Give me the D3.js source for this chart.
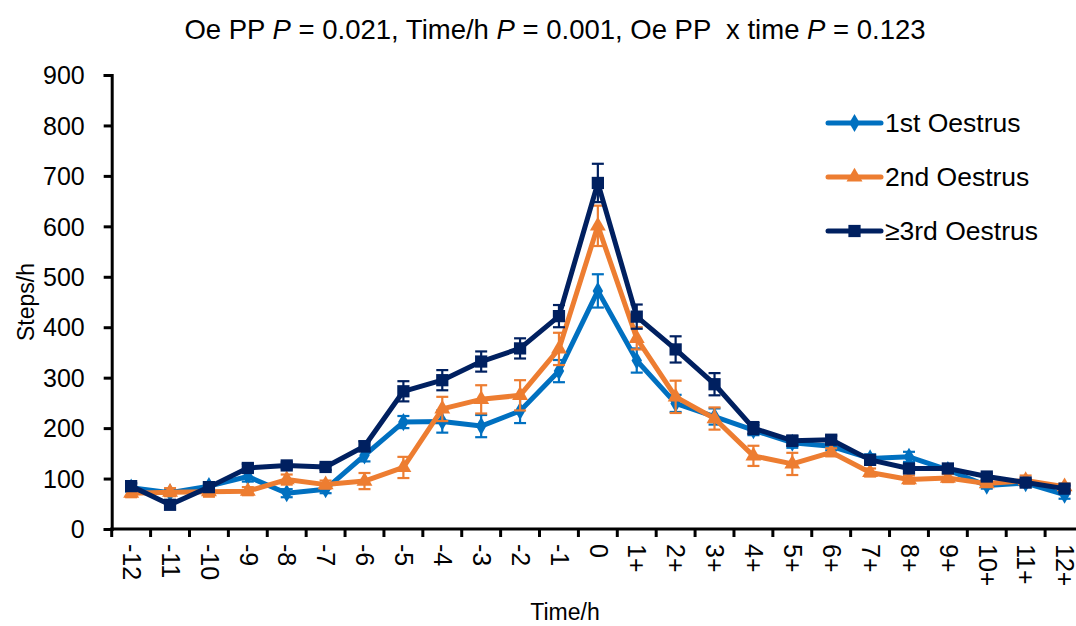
<!DOCTYPE html>
<html>
<head>
<meta charset="utf-8">
<script src="https://cdn.jsdelivr.net/npm/d3@7"></script>
<style>
  body { margin: 0; background: #fff; }
  svg text { font-family: "Liberation Sans", Arial, sans-serif; fill: #000; }
</style>
</head>
<body>
<svg id="grafica"></svg>
<script>
// Steps/h por hora alrededor del estro, tres grupos de estro

const svg_w = 1076;
const svg_h = 626;

// márgenes: el eje x sale del borde derecho como en el original
const margin = {l:111.7, r:-8, t:75, b:97};

// datos
const categorias = ["-12","-11","-10","-9","-8","-7","-6","-5","-4","-3","-2","-1","0",
  "1+","2+","3+","4+","5+","6+","7+","8+","9+","10+","11+","12+"];

const estro1 = [82,72,85,104,71,79,146,212,213,204,234,313,472,334,249,223,196,171,164,140,143,117,86,91,68];
const estro1_err = [8,6,8,10,8,8,12,12,22,22,24,22,33,24,17,16,10,10,8,8,10,8,6,6,8];

const estro2 = [71,73,74,75,98,88,95,122,238,257,265,357,601,378,262,219,145,129,152,112,98,101,90,96,84];
const estro2_err = [8,8,10,8,10,8,16,21,24,28,30,32,40,22,32,22,20,22,8,8,8,8,6,10,6];

const estro3 = [85,48,83,121,126,123,164,273,295,332,358,422,686,421,356,287,200,175,177,137,120,120,104,92,80];
const estro3_err = [6,8,6,8,6,6,10,20,20,20,20,22,38,24,26,22,12,10,8,8,8,6,6,6,6];

const y_ticks = [0,100,200,300,400,500,600,700,800,900];

const series = [
  {nombre:"1st Oestrus", valores:estro1, err:estro1_err, color:"#0070C0", simbolo:d3.symbolDiamond, tam:95},
  {nombre:"2nd Oestrus", valores:estro2, err:estro2_err, color:"#ED7D31", simbolo:d3.symbolTriangle, tam:110},
  {nombre:"≥3rd Oestrus", valores:estro3, err:estro3_err, color:"#002060", simbolo:d3.symbolSquare, tam:150}
];

let svg = d3.select("#grafica")
  .attr("width", svg_w)
  .attr("height", svg_h);

let x_scale = d3.scaleBand()
  .domain(categorias)
  .range([margin.l, svg_w - margin.r])
  .padding(0);

let y_scale = d3.scaleLinear()
  .domain([0,900])
  .range([svg_h - margin.b, margin.t]);

const cx = c => x_scale(c) + x_scale.bandwidth()/2;

// eje y
let eje_y = svg.append("g")
  .attr("transform", `translate(${margin.l},0)`)
  .call(d3.axisLeft(y_scale).tickValues(y_ticks).tickSize(8).tickPadding(18));
eje_y.select(".domain").attr("stroke","#000").attr("stroke-width",3);
eje_y.selectAll(".tick line").attr("stroke","#000").attr("stroke-width",3);
eje_y.selectAll(".tick text")
  .style("font-size","25px")
  .attr("dy","0.35em")
  .attr("x",-27);

// eje x: marcas entre categorías, como Excel
let eje_x = svg.append("g");
eje_x.append("line")
  .attr("x1", margin.l - 1.5)
  .attr("x2", svg_w)
  .attr("y1", y_scale(0))
  .attr("y2", y_scale(0))
  .attr("stroke","#000")
  .attr("stroke-width",3);
eje_x.selectAll("line.marca")
  .data(categorias)
  .enter().append("line")
  .attr("class","marca")
  .attr("x1", d => x_scale(d))
  .attr("x2", d => x_scale(d))
  .attr("y1", y_scale(0))
  .attr("y2", y_scale(0) + 8)
  .attr("stroke","#000")
  .attr("stroke-width",3);
eje_x.selectAll("text")
  .data(categorias)
  .enter().append("text")
  .attr("transform", d => `translate(${cx(d)},${y_scale(0) + 15}) rotate(90)`)
  .attr("dy","0.33em")
  .style("font-size","25px")
  .text(d => d);

// títulos de ejes
svg.append("text")
  .attr("transform", `translate(34,${(y_scale(0)+y_scale(900))/2}) rotate(-90)`)
  .attr("text-anchor","middle")
  .style("font-size","23px")
  .text("Steps/h");

svg.append("text")
  .attr("x", 565)
  .attr("y", 620)
  .attr("text-anchor","middle")
  .style("font-size","23px")
  .text("Time/h");

// título con P en cursiva (doble espacio como en el original)
let titulo = svg.append("text")
  .attr("x", 555)
  .attr("y", 39)
  .attr("text-anchor","middle")
  .style("white-space","pre")
  .style("font-size","27.5px");
titulo.append("tspan").text("Oe PP ");
titulo.append("tspan").style("font-style","italic").text("P");
titulo.append("tspan").text(" = 0.021, Time/h ");
titulo.append("tspan").style("font-style","italic").text("P");
titulo.append("tspan").text(" = 0.001, Oe PP  x time ");
titulo.append("tspan").style("font-style","italic").text("P");
titulo.append("tspan").text(" = 0.123");

// series
let linea = d3.line()
  .x(d => cx(d.cat))
  .y(d => y_scale(d.v));

series.forEach(s => {
  let puntos = categorias.map((c,i) => ({cat:c, v:s.valores[i], e:s.err[i]}));
  let g = svg.append("g");

  let barras = g.selectAll("g.err")
    .data(puntos)
    .enter().append("g")
    .attr("class","err")
    .attr("stroke", s.color)
    .attr("stroke-width", 2.2);
  barras.append("line")
    .attr("x1", d => cx(d.cat)).attr("x2", d => cx(d.cat))
    .attr("y1", d => y_scale(d.v - d.e)).attr("y2", d => y_scale(d.v + d.e));
  barras.append("line")
    .attr("x1", d => cx(d.cat) - 6).attr("x2", d => cx(d.cat) + 6)
    .attr("y1", d => y_scale(d.v + d.e)).attr("y2", d => y_scale(d.v + d.e));
  barras.append("line")
    .attr("x1", d => cx(d.cat) - 6).attr("x2", d => cx(d.cat) + 6)
    .attr("y1", d => y_scale(d.v - d.e)).attr("y2", d => y_scale(d.v - d.e));

  g.append("path")
    .datum(puntos)
    .attr("d", linea)
    .attr("fill","none")
    .attr("stroke", s.color)
    .attr("stroke-width", 5)
    .attr("stroke-linejoin","round");

  g.selectAll("path.marcador")
    .data(puntos)
    .enter().append("path")
    .attr("class","marcador")
    .attr("transform", d => `translate(${cx(d.cat)},${y_scale(d.v)})`)
    .attr("d", d3.symbol().type(s.simbolo).size(s.tam))
    .attr("fill", s.color);
});

// leyenda
let leyenda = svg.append("g")
  .selectAll("g")
  .data(series)
  .enter().append("g")
  .attr("transform", (d,i) => `translate(828,${123 + i*54})`);
leyenda.append("line")
  .attr("x1",0).attr("x2",53)
  .attr("stroke", d => d.color)
  .attr("stroke-width",5)
  .attr("stroke-linecap","round");
leyenda.append("path")
  .attr("transform","translate(26.5,0)")
  .attr("d", d => d3.symbol().type(d.simbolo).size(d.tam)())
  .attr("fill", d => d.color);
leyenda.append("text")
  .attr("x",57)
  .attr("dy","0.35em")
  .style("font-size","26.5px")
  .text(d => d.nombre);
</script>
</body>
</html>
